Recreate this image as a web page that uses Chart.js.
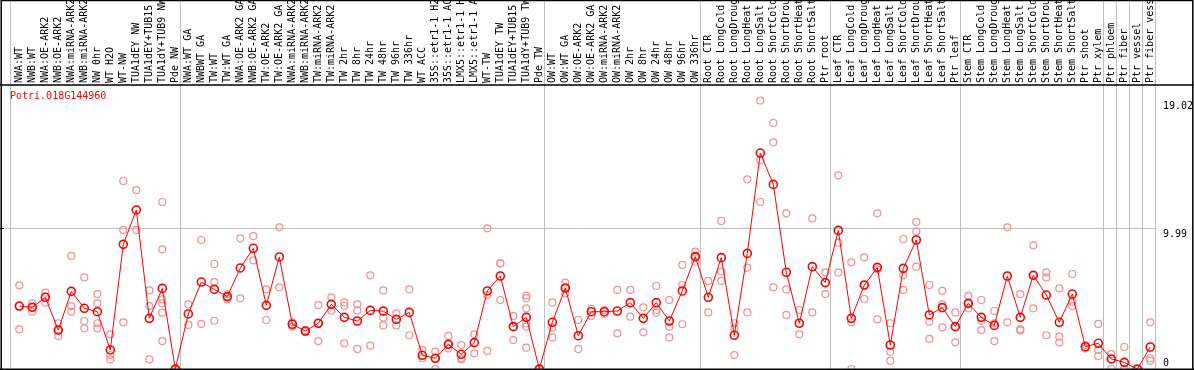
<!DOCTYPE html>
<html>
<head>
<meta charset="utf-8">
<script src="https://cdn.jsdelivr.net/npm/chart.js@4"></script>
<style>
  html, body { margin: 0; padding: 0; background: #fff; }
  #chart { display: block; }
</style>
</head>
<body>
<canvas id="chart" width="1194" height="370"></canvas>
<script>
// category labels, one per sample
const categories = [
  'NWA:WT', 'NWB:WT', 'NWA:OE-ARK2', 'NWB:OE-ARK2', 'NWA:miRNA-ARK2', 'NWB:miRNA-ARK2',
  'NW 0hr', 'WT H2O', 'WT-NW', 'TUA1dEY NW', 'TUA1dEY+TUB15', 'TUA1dY+TUB9 NW', 'Pde NW',
  'NWA:WT GA', 'NWBWT GA', 'TW:WT', 'TW:WT GA', 'NWA:OE-ARK2 GA', 'NWB:OE-ARK2 GA',
  'TW:OE-ARK2', 'TW:OE-ARK2 GA', 'NWA:miRNA-ARK2', 'NWB:miRNA-ARK2', 'TW:miRNA-ARK2',
  'TW:miRNA-ARK2', 'TW 2hr', 'TW 8hr', 'TW 24hr', 'TW 48hr', 'TW 96hr', 'TW 336hr',
  'WT ACC', '35S::etr1-1 H2O', '35S::etr1-1 ACC', 'LMX5::etr1-1 H2O', 'LMX5::etr1-1 ACC',
  'WT-TW', 'TUA1dEY TW', 'TUA1dEY+TUB15', 'TUA1dY+TUB9 TW', 'Pde TW',
  'OW:WT', 'OW:WT GA', 'OW:OE-ARK2', 'OW:OE-ARK2 GA', 'OW:miRNA-ARK2', 'OW:miRNA-ARK2',
  'OW 2hr', 'OW 8hr', 'OW 24hr', 'OW 48hr', 'OW 96hr', 'OW 336hr',
  'Root CTR', 'Root LongCold', 'Root LongDrought', 'Root LongHeat', 'Root LongSalt',
  'Root ShortCold', 'Root ShortDrought', 'Root ShortHeat', 'Root ShortSalt', 'Ptr root',
  'Leaf CTR', 'Leaf LongCold', 'Leaf LongDrought', 'Leaf LongHeat', 'Leaf LongSalt',
  'Leaf ShortCold', 'Leaf ShortDrought', 'Leaf ShortHeat', 'Leaf ShortSalt', 'Ptr leaf',
  'Stem CTR', 'Stem LongCold', 'Stem LongDrought', 'Stem LongHeat', 'Stem LongSalt',
  'Stem ShortCold', 'Stem ShortDrought', 'Stem ShortHeat', 'Stem ShortSalt',
  'Ptr shoot', 'Ptr xylem', 'Ptr phloem', 'Ptr fiber', 'Ptr vessel', 'Ptr fiber vessel'
];

// mean expression per sample
const means = [
  4.46, 4.37, 5.08, 2.76, 5.50, 4.30, 4.06, 1.35, 8.83, 11.27, 3.59, 5.71, 0,
  3.90, 6.16, 5.64, 5.13, 7.16, 8.55, 4.51, 7.94, 3.17, 2.69, 3.24, 4.58, 3.66,
  3.40, 4.15, 4.10, 3.52, 4.01, 0.97, 0.76, 1.75, 1.04, 1.87, 5.53, 6.59, 3.00, 3.66, 0,
  3.31, 5.74, 2.36, 4.06, 4.06, 4.11, 4.70, 3.59, 4.70, 3.40, 5.53, 7.96,
  5.08, 7.89, 2.39, 8.19, 15.30, 13.08, 6.85, 3.24, 7.25, 6.12,
  9.82, 3.59, 5.95, 7.20, 1.70, 7.13, 9.14, 3.83, 4.35, 3.00,
  4.65, 3.66, 3.09, 6.59, 3.66, 6.64, 5.24, 3.31, 5.31, 1.58, 1.82,
  0.71, 0.47, 0, 1.56
];

// individual replicates per sample
const replicates = [
  [5.93, 4.46, 2.81], [4.65, 4.37, 4.06], [5.41, 5.13, 4.70], [3.24, 2.76, 2.34],
  [8.01, 4.46, 4.06], [6.49, 3.40, 2.88], [5.31, 4.65, 3.24, 2.88], [2.46, 0.99, 0.68],
  [13.32, 9.85, 3.31], [12.68, 9.85], [5.57, 4.46, 0.68], [11.83, 8.48, 4.94, 4.65, 3.99, 1.98],
  [0, 0, 0],
  [4.58, 3.12], [9.14, 3.19], [7.44, 6.16, 3.42], [5.31, 5.13, 4.95], [9.26, 5.01],
  [9.42, 7.70], [5.64, 3.47], [10.04, 5.79], [3.31, 3.00], [2.76, 2.62],
  [4.53, 3.24, 1.98], [5.08, 4.13], [4.72, 4.48, 1.82], [4.58, 4.15, 1.42], [6.64, 1.65],
  [5.57, 3.64, 3.09], [3.94, 3.09], [5.64, 2.39], [1.35, 0.76], [1.23, 0.76, 0],
  [2.34, 1.75, 1.46], [1.70, 0.76, 0.68], [2.46, 1.11], [9.97, 5.24, 1.28],
  [7.49, 7.49, 4.89], [3.76, 3.00, 2.05], [5.20, 5.01, 4.30, 3.24, 3.00, 1.51], [0, 0],
  [4.72, 2.93, 2.24], [6.12, 5.74, 5.36], [3.47, 1.42], [4.27, 3.76], [4.18, 3.90],
  [5.60, 2.53], [5.60, 3.71], [4.37, 2.60], [5.88, 4.18, 3.99], [4.89, 3.00, 2.24],
  [7.37, 5.95, 3.17], [8.31, 7.96, 7.60],
  [6.24, 4.01], [10.49, 6.90, 6.24], [3.24, 2.88, 0.99], [13.44, 7.18, 4.01],
  [19.02, 14.81, 11.83], [17.43, 16.06, 5.79], [11.03, 5.64, 3.83], [4.18, 2.46],
  [10.67, 4.01], [6.85, 5.31],
  [13.72, 8.95, 6.83], [7.56, 3.31, 0], [7.91, 5.95, 4.96], [11.03, 7.06, 3.52],
  [3.24, 1.23, 0.57], [9.21, 6.64, 5.60], [10.42, 9.75, 7.25], [5.95, 3.35, 2.13],
  [5.53, 4.58, 2.95], [4.01, 3.00, 1.89],
  [5.18, 4.65, 4.30], [4.89, 3.42, 2.76], [4.11, 3.24, 1.98], [10.04, 3.31],
  [5.31, 2.83, 2.72], [8.76, 6.64, 4.30], [6.85, 6.49, 2.39], [5.71, 2.29, 1.87],
  [6.73, 4.77, 4.46], [1.70, 1.46], [3.19, 1.35, 0.92],
  [1.06, 0.71, 0], [1.56, 0, 0], [0, 0], [3.31, 0.76, 0.59]
];

// sample index after which a group ends (-1 = before the first one)
const groupEnds = [-1, 12, 40, 52, 62, 72, 83, 84, 85, 86, 87];

const yTicks = [0, 9.99, 19.02];
const geneName = 'Potri.018G144960';

const FONT = '10px "DejaVu Sans Mono", monospace';
const GRID = '#c0c0c0';

const meanPoints = means.map((v, i) => ({ x: i, y: v }));
const repPoints = [];
replicates.forEach((reps, i) => {
  reps.forEach(v => repPoints.push({ x: i, y: v }));
});

// lignes de fond : séparateurs de groupes + grille à 9.99
const backdrop = {
  id: 'backdrop',
  beforeDatasetsDraw(chart) {
    const ctx = chart.ctx;
    const xs = chart.scales.x, ys = chart.scales.y;
    const area = chart.chartArea;
    ctx.save();
    ctx.strokeStyle = GRID;
    ctx.lineWidth = 1;
    groupEnds.forEach(k => {
      const off = k < 0 ? 0.3 : 0.37;
      const px = Math.round(xs.getPixelForValue(k + off)) + 0.5;
      ctx.beginPath();
      ctx.moveTo(px, 0);
      ctx.lineTo(px, area.bottom);
      ctx.stroke();
    });
    const gy = Math.round(ys.getPixelForValue(yTicks[1])) + 0.5;
    ctx.beginPath();
    ctx.moveTo(area.left, gy);
    ctx.lineTo(area.right, gy);
    ctx.stroke();
    ctx.restore();
  }
};

// cadre, étiquettes verticales, titre et valeurs de l'axe
const frame = {
  id: 'frame',
  afterDraw(chart) {
    const ctx = chart.ctx;
    const xs = chart.scales.x, ys = chart.scales.y;
    const area = chart.chartArea;
    const W = chart.width;
    ctx.save();

    ctx.strokeStyle = '#000';
    ctx.lineWidth = 1.5;
    ctx.beginPath();
    ctx.moveTo(1, 0.5); ctx.lineTo(W - 1, 0.5);
    ctx.moveTo(1.2, 0); ctx.lineTo(1.2, area.bottom + 1);
    ctx.moveTo(W - 1.2, 0); ctx.lineTo(W - 1.2, area.bottom + 1);
    ctx.moveTo(0, area.bottom + 0.2); ctx.lineTo(W, area.bottom + 0.2);
    ctx.moveTo(0, 85); ctx.lineTo(W, 85);
    ctx.stroke();

    ctx.lineWidth = 1;
    const gy = Math.round(ys.getPixelForValue(yTicks[1])) + 0.5;
    ctx.beginPath();
    ctx.moveTo(0, gy); ctx.lineTo(4, gy);
    ctx.stroke();

    ctx.font = FONT;
    ctx.fillStyle = '#000';
    ctx.textBaseline = 'middle';
    ctx.textAlign = 'left';
    categories.forEach((lab, i) => {
      const px = xs.getPixelForValue(i);
      ctx.save();
      ctx.translate(px, 83);
      ctx.rotate(-Math.PI / 2);
      ctx.fillText(lab, 0, 0);
      ctx.restore();
    });

    ctx.fillStyle = '#ff0000';
    ctx.textBaseline = 'top';
    ctx.fillText(geneName, 10, 91);

    ctx.fillStyle = '#000';
    yTicks.forEach(t => {
      const py = ys.getPixelForValue(t);
      if (py + 12 > area.bottom) {
        ctx.textBaseline = 'bottom';
        ctx.fillText(String(t), 1163, py - 1);
      } else {
        ctx.textBaseline = 'top';
        ctx.fillText(String(t), 1163, py + 1);
      }
    });
    ctx.restore();
  }
};

new Chart(document.getElementById('chart'), {
  type: 'line',
  data: {
    datasets: [
      {
        data: meanPoints,
        order: 0,
        borderColor: '#ff0000',
        borderWidth: 1,
        pointRadius: 4,
        pointBorderWidth: 1.6,
        pointBorderColor: '#ff0000',
        pointBackgroundColor: 'rgba(0,0,0,0)',
        tension: 0,
        clip: false
      },
      {
        data: repPoints,
        order: 1,
        showLine: false,
        pointRadius: 3.5,
        pointBorderWidth: 1.2,
        pointBorderColor: '#f09090',
        pointBackgroundColor: 'rgba(0,0,0,0)',
        clip: false
      }
    ]
  },
  options: {
    responsive: false,
    animation: false,
    events: [],
    layout: { autoPadding: false, padding: { left: 1, top: 86, right: 38, bottom: 1 } },
    plugins: { legend: { display: false }, tooltip: { enabled: false } },
    scales: {
      x: { type: 'linear', display: false, min: -1.408, max: 87.438 },
      y: { type: 'linear', display: false, min: 0, max: 20.05 }
    }
  },
  plugins: [backdrop, frame]
});
</script>
</body>
</html>
